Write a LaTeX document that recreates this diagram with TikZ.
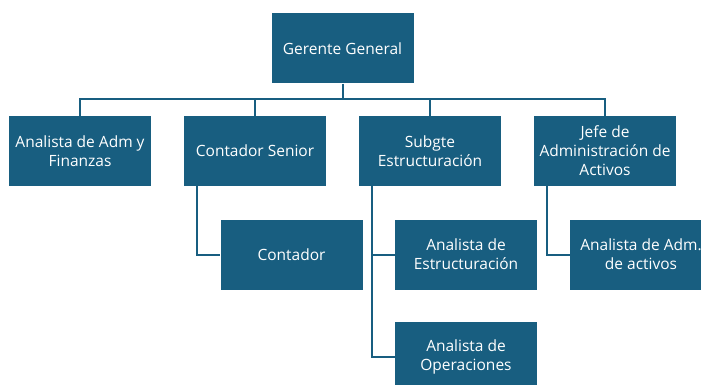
\documentclass[tikz,border=0pt]{standalone}
\usepackage{fontspec}
\setmainfont{Open Sans}
\usepackage{tikz}
\definecolor{azul}{HTML}{185E80}

\begin{document}
\begin{tikzpicture}[x=1pt,y=-1pt,
    puesto/.style={fill=azul,text=white,minimum width=142pt,minimum height=70pt,
      inner sep=2pt,align=center,font=\fontsize{15.5}{19}\selectfont},
    linea/.style={draw=azul,line width=2pt}]
      \useasboundingbox (0,0) rectangle (701,385);
      \clip (0,0) rectangle (701,385);

      \node (gg) at (342.5,48.5) [puesto] {Gerente General};

      \node (adm) at (80,151) [puesto] {Analista de Adm y\\Finanzas};
      \node (cs) at (255,151) [puesto] {Contador Senior};
      \node (sub) at (430,151) [puesto] {Subgte\\Estructuración};
      \node (jefe) at (605,151) [puesto] {Jefe de\\Administración de\\Activos};

      \node (cont) at (291.5,254.5) [puesto] {Contador};
      \node (aest) at (466,254.5) [puesto] {Analista de\\Estructuración};
      \node (aop) at (466,357) [puesto] {Analista de\\Operaciones};
      \node (aact) at (641,254.5) [puesto] {Analista de Adm.\\de activos};

      \coordinate (bus) at (342.5,99);
      \coordinate (cs1) at ([xshift=13pt]cs.south west);
      \coordinate (sub1) at ([xshift=13pt]sub.south west);
      \coordinate (jefe1) at ([xshift=13pt]jefe.south west);

      \draw[linea] (gg.south) -- (bus);
      \draw[linea] (adm.north) |- (bus) -| (jefe.north);
      \draw[linea] (cs.north) -- (cs.north |- bus);
      \draw[linea] (sub.north) -- (sub.north |- bus);

      \draw[linea] (cs1) |- (cont.west);
      \draw[linea] (sub1) |- (aest.west);
      \draw[linea] (sub1) |- (aop.west);
      \draw[linea] (jefe1) |- (aact.west);

\end{tikzpicture}
\end{document}
